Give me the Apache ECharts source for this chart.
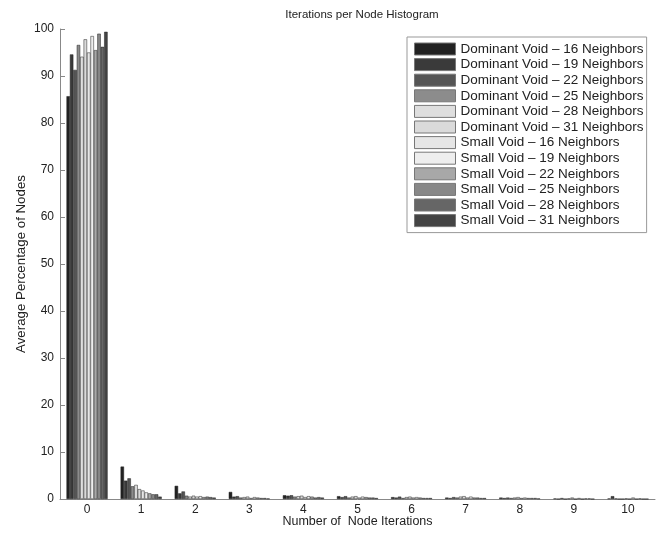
<!DOCTYPE html>
<html>
<head>
<meta charset="utf-8">
<script src="https://cdn.jsdelivr.net/npm/echarts@6/dist/echarts.min.js"></script>
<style>
  html, body { margin: 0; padding: 0; background: #fff; }
  #chart { width: 667px; height: 534px; }
</style>
</head>
<body>
<div id="chart"></div>
<script>
var iterations = ['0', '1', '2', '3', '4', '5', '6', '7', '8', '9', '10'];

var seriesNames = [
  'Dominant Void \u2013 16 Neighbors',
  'Dominant Void \u2013 19 Neighbors',
  'Dominant Void \u2013 22 Neighbors',
  'Dominant Void \u2013 25 Neighbors',
  'Dominant Void \u2013 28 Neighbors',
  'Dominant Void \u2013 31 Neighbors',
  'Small Void \u2013 16 Neighbors',
  'Small Void \u2013 19 Neighbors',
  'Small Void \u2013 22 Neighbors',
  'Small Void \u2013 25 Neighbors',
  'Small Void \u2013 28 Neighbors',
  'Small Void \u2013 31 Neighbors'
];

var grays = ['#222222', '#3a3a3a', '#555555', '#8c8c8c', '#dedede', '#dadada',
             '#e6e6e6', '#eeeeee', '#a8a8a8', '#888888', '#666666', '#444444'];

// one array per iteration count, 12 values (series order as in the legend)
var iter0 = [85.7, 94.6, 91.3, 96.6, 94.1, 97.8, 95.0, 98.5, 95.5, 99.0, 96.2, 99.4];
var iter1 = [6.9, 3.9, 4.4, 2.7, 3.0, 2.1, 1.8, 1.4, 1.2, 1.0, 1.0, 0.5];
var iter2 = [2.8, 1.2, 1.6, 0.7, 0.5, 0.7, 0.5, 0.6, 0.4, 0.5, 0.4, 0.3];
var iter3 = [1.5, 0.5, 0.6, 0.3, 0.4, 0.5, 0.2, 0.4, 0.3, 0.2, 0.2, 0.1];
var iter4 = [0.8, 0.7, 0.8, 0.5, 0.6, 0.7, 0.4, 0.6, 0.5, 0.3, 0.4, 0.3];
var iter5 = [0.6, 0.4, 0.6, 0.3, 0.5, 0.6, 0.3, 0.5, 0.4, 0.3, 0.3, 0.2];
var iter6 = [0.4, 0.3, 0.5, 0.2, 0.4, 0.5, 0.3, 0.4, 0.3, 0.2, 0.2, 0.2];
var iter7 = [0.3, 0.2, 0.4, 0.3, 0.5, 0.6, 0.3, 0.5, 0.3, 0.3, 0.2, 0.2];
var iter8 = [0.3, 0.2, 0.3, 0.2, 0.3, 0.4, 0.2, 0.3, 0.2, 0.2, 0.2, 0.1];
var iter9 = [0.1, 0.0, 0.2, 0.0, 0.1, 0.3, 0.0, 0.2, 0.0, 0.1, 0.1, 0.0];
var iter10 = [0.1, 0.6, 0.1, 0.0, 0.0, 0.1, 0.0, 0.3, 0.0, 0.1, 0.0, 0.0];

var yTicks = [0, 10, 20, 30, 40, 50, 60, 70, 80, 90, 100];

var byIteration = [iter0, iter1, iter2, iter3, iter4, iter5, iter6, iter7, iter8, iter9, iter10];

var chart = echarts.init(document.getElementById('chart'));

var font = 'Liberation Sans, Arial, sans-serif';

chart.setOption({
  animation: false,
  backgroundColor: '#fff',
  title: {
    text: 'Iterations per Node Histogram',
    left: 357,
    textAlign: 'center',
    top: 4,
    textStyle: { fontFamily: font, fontSize: 11.5, fontWeight: 'normal', color: '#222' }
  },
  legend: {
    orient: 'vertical',
    left: 407,
    top: 37,
    padding: [5, 3, 5, 7],
    icon: 'rect',
    itemWidth: 41,
    itemHeight: 12,
    itemGap: 1.6,
    borderColor: '#999',
    borderWidth: 1,
    backgroundColor: '#fff',
    itemStyle: { borderColor: '#777', borderWidth: 1 },
    textStyle: { fontFamily: font, fontSize: 13.5, color: '#222' },
    data: seriesNames
  },
  grid: { left: 60, right: 12, top: 29, bottom: 35, outerBoundsMode: 'none' },
  xAxis: {
    type: 'category',
    data: iterations,
    name: 'Number of  Node Iterations',
    nameLocation: 'middle',
    nameGap: 16,
    nameMoveOverlap: false,
    nameTextStyle: { fontFamily: font, fontSize: 12.5, color: '#222' },
    axisLine: { lineStyle: { color: '#888', width: 1 } },
    axisTick: { inside: true, alignWithLabel: true, length: 4, lineStyle: { color: '#888' } },
    axisLabel: { fontFamily: font, fontSize: 12, color: '#222', margin: 5 }
  },
  yAxis: {
    type: 'value',
    min: yTicks[0],
    max: yTicks[yTicks.length - 1],
    interval: 10,
    name: 'Average Percentage of Nodes',
    nameLocation: 'middle',
    nameGap: 32,
    nameMoveOverlap: false,
    nameTextStyle: { fontFamily: font, fontSize: 13.3, color: '#222' },
    splitLine: { show: false },
    axisLine: { show: true, lineStyle: { color: '#888', width: 1 } },
    axisTick: { show: true, inside: true, length: 5, lineStyle: { color: '#888' } },
    axisLabel: { fontFamily: font, fontSize: 12, color: '#222', margin: 6 }
  },
  series: seriesNames.map(function (name, s) {
    return {
      name: name,
      type: 'bar',
      barGap: '0%',
      barCategoryGap: '24%',
      itemStyle: { color: grays[s], borderColor: '#222', borderWidth: 0.5 },
      data: byIteration.map(function (row) { return row[s]; })
    };
  })
});
</script>
</body>
</html>
